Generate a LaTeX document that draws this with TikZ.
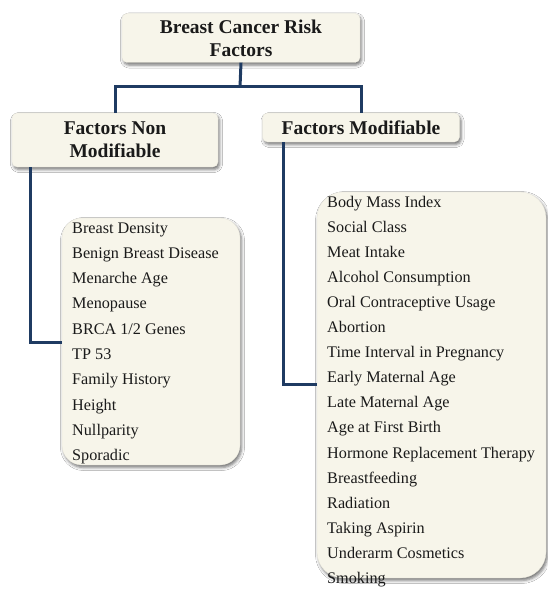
\documentclass[tikz,border=0pt]{standalone}
\usepackage{fontspec}
\setmainfont{Liberation Serif}
\usetikzlibrary{shadows.blur}

\definecolor{boxfill}{HTML}{F7F5EA}
\definecolor{boxedge}{HTML}{E6E4D9}
\definecolor{linknavy}{HTML}{1F3B62}
\definecolor{inktext}{HTML}{1A1A1A}

\tikzset{
  panel/.style={rectangle, rounded corners=#1, fill=boxfill, draw=boxedge, line width=0.3pt,
    blur shadow={shadow xshift=1.5pt, shadow yshift=-2.5pt, shadow blur radius=3pt, shadow opacity=55},
    inner sep=0pt},
  headtext/.style={font=\fontsize{19.5}{23}\selectfont\bfseries, text=inktext, align=center},
  itemtext/.style={font=\fontsize{16.2}{19}\selectfont, text=inktext, anchor=base west, inner sep=0pt},
  conn/.style={draw=linknavy, line width=3pt},
}

\begin{document}
\begin{tikzpicture}[x=1pt, y=-1pt]
  \useasboundingbox[fill=white] (0,0) rectangle (547,591);

  % heading boxes
  \node[panel=5pt, minimum width=238pt, minimum height=49pt] (top) at (241,38) {};
  \node[headtext] (toptext) at (top.center) {Breast Cancer Risk\\Factors};

  \node[panel=5pt, minimum width=206pt, minimum height=54pt] (lhead) at (115,140) {};
  \node[headtext] (lheadtext) at (lhead.center) {Factors Non\\Modifiable};

  \node[panel=5pt, minimum width=197pt, minimum height=29pt] (rhead) at (361,127.5) {};
  \node[headtext] (rheadtext) at (rhead.center) {Factors Modifiable};

  % list boxes
  \node[panel=20pt, minimum width=178pt, minimum height=247pt] (llist) at (151,341.5) {};
  \node[panel=26pt, minimum width=229pt, minimum height=386pt] (rlist) at (431.5,385) {};

  % connectors
  \coordinate (fork) at (240,87);
  \draw[conn] (top.south) -- (fork);
  \draw[conn] (fork) -| (lhead.north);
  \draw[conn] (fork) -| (rhead.north);

  \coordinate (lfoot) at (30,342);
  \draw[conn] (lhead.south -| lfoot) -- (lfoot) -- (lfoot -| llist.west);

  \coordinate (rfoot) at (283,384);
  \draw[conn] (rhead.south -| rfoot) -- (rfoot) -- (rfoot -| rlist.west);

  % list entries
  \foreach \txt [count=\i from 0] in {Breast Density, Benign Breast Disease, Menarche Age,
      Menopause, BRCA 1/2 Genes, TP 53, Family History, Height, Nullparity, Sporadic}
    \node[itemtext] (litem\i) at (72, 233+25.3*\i) {\txt};

  \foreach \txt [count=\i from 0] in {Body Mass Index, Social Class, Meat Intake,
      Alcohol Consumption, Oral Contraceptive Usage, Abortion, Time Interval in Pregnancy,
      Early Maternal Age, Late Maternal Age, Age at First Birth, Hormone Replacement Therapy,
      Breastfeeding, Radiation, Taking Aspirin, Underarm Cosmetics, Smoking}
    \node[itemtext] (ritem\i) at (327, 207+25.1*\i) {\txt};
\end{tikzpicture}
\end{document}
